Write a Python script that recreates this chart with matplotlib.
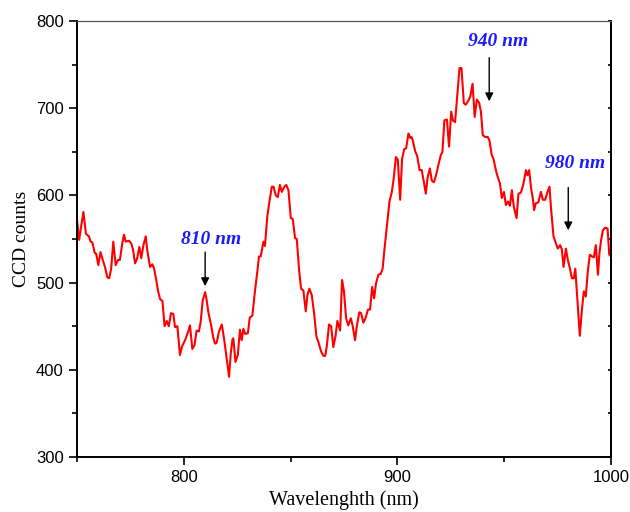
import matplotlib
matplotlib.use("Agg")
import matplotlib.pyplot as plt
import numpy as np

# Spectre (longueur d'onde en nm, coups CCD)
wavelength = [750.0, 751.0, 753.0, 754.2, 755.6, 756.4, 757.2, 758.3, 759.0, 760.0,
              761.0, 762.3, 763.1, 764.2, 765.1, 766.0, 767.0, 768.1, 769.2, 770.1,
              771.2, 772.0, 772.8, 774.4, 775.4, 776.2, 777.2, 778.2, 779.2, 780.1,
              781.1, 782.2, 782.9, 784.2, 785.3, 786.1, 787.1, 787.9, 788.9, 790.0,
              791.0, 792.0, 793.0, 794.0, 795.1, 795.9, 797.0, 798.2, 799.2, 800.6,
              802.1, 802.9, 804.0, 805.0, 806.0, 807.1, 807.9, 808.9, 810.0, 810.7,
              811.5, 812.8, 813.8, 814.6, 815.4, 816.5, 817.8, 818.9, 820.1, 821.2,
              822.0, 822.8, 823.2, 824.2, 825.3, 826.3, 827.1, 827.9, 828.8, 830.0,
              830.9, 832.1, 833.4, 834.5, 835.2, 836.0, 837.3, 838.0, 839.1, 840.1,
              841.2, 842.0, 843.1, 844.0, 845.0, 845.9, 847.1, 848.0, 849.0, 850.1,
              851.0, 852.1, 852.9, 854.0, 854.9, 856.0, 857.1, 857.9, 858.8, 859.9,
              861.0, 862.1, 863.0, 864.3, 865.4, 866.2, 866.9, 868.0, 869.0, 870.0,
              871.0, 871.9, 873.2, 874.1, 875.0, 876.0, 877.0, 878.2, 879.1, 880.2,
              881.0, 882.2, 883.0, 884.1, 885.2, 886.2, 887.2, 888.2, 889.1, 890.0,
              891.1, 892.2, 893.1, 893.9, 894.7, 895.5, 896.3, 897.4, 898.2, 899.3,
              900.2, 901.3, 902.2, 903.2, 904.1, 905.2, 906.0, 906.6, 907.2, 908.3,
              909.3, 910.4, 911.4, 912.5, 913.3, 914.2, 915.2, 916.1, 917.1, 918.1,
              919.2, 920.3, 921.1, 922.0, 923.2, 924.2, 925.2, 926.0, 927.0, 928.0,
              929.1, 930.0, 931.1, 932.0, 933.3, 934.1, 935.2, 936.2, 937.2, 938.3,
              939.1, 940.0, 941.1, 942.3, 943.1, 944.2, 945.0, 946.1, 947.0, 948.0,
              948.9, 949.9, 950.8, 951.8, 952.7, 953.6, 954.5, 955.8, 956.7, 957.8,
              958.9, 960.2, 960.9, 961.7, 962.6, 963.4, 964.0, 964.8, 966.0, 967.2,
              968.1, 969.2, 970.3, 971.2, 972.0, 973.1, 974.2, 975.1, 976.2, 977.0,
              977.8, 978.9, 979.8, 980.8, 981.7, 982.6, 983.3, 984.0, 984.8, 985.4,
              986.4, 987.3, 988.2, 989.2, 990.1, 991.1, 992.0, 992.9, 993.9, 994.6,
              995.4, 996.2, 997.3, 998.4, 999.2, 1000.0]
counts = [572, 549, 581, 556, 553, 547, 546, 534, 533, 520,
          535, 524, 518, 506, 505, 516, 547, 520, 526, 526,
          545, 555, 547, 548, 545, 538, 522, 528, 541, 528,
          543, 553, 537, 518, 521, 516, 503, 491, 481, 479,
          450, 456, 450, 465, 464, 449, 450, 417, 427, 434,
          444, 451, 424, 428, 445, 444, 455, 480, 489, 480,
          466, 451, 437, 430, 431, 444, 452, 435, 413, 392,
          419, 435, 436, 409, 417, 446, 434, 447, 441, 442,
          460, 462, 492, 514, 530, 530, 547, 542, 576, 593,
          610, 610, 600, 598, 612, 604, 610, 612, 606, 574,
          573, 551, 550, 514, 493, 491, 467, 486, 493, 486,
          465, 438, 432, 421, 416, 416, 426, 452, 450, 426,
          438, 456, 445, 503, 490, 459, 451, 459, 450, 434,
          450, 466, 465, 454, 460, 469, 469, 495, 482, 499,
          509, 510, 516, 537, 556, 576, 593, 604, 618, 644,
          641, 595, 642, 653, 654, 671, 666, 667, 663, 651,
          645, 629, 629, 614, 602, 621, 631, 617, 615, 623,
          635, 646, 650, 686, 687, 656, 696, 686, 684, 713,
          746, 746, 706, 704, 709, 713, 728, 690, 710, 706,
          696, 669, 667, 667, 663, 646, 642, 629, 621, 614,
          597, 604, 589, 593, 588, 606, 587, 574, 602, 603,
          612, 629, 623, 629, 608, 597, 583, 591, 592, 604,
          595, 595, 604, 610, 583, 553, 545, 539, 543, 538,
          518, 539, 526, 516, 505, 505, 516, 491, 461, 439,
          469, 490, 484, 514, 532, 530, 529, 543, 509, 534,
          549, 560, 563, 562, 532, 530]

# Pics annotés
peak_wl = [810, 943, 980]
peak_text = ["810 nm", "940 nm", "980 nm"]
text_x = [813, 947, 983]
text_y = [549, 776, 637]
arrow_top = [535, 758, 609]
arrow_tip = [496, 708, 560]

plt.rcParams['font.family'] = ['Liberation Sans', 'DejaVu Sans']

fig = plt.figure(figsize=(6.3, 5.12), dpi=100)
ax = fig.add_axes([0.1222, 0.1074, 0.8476, 0.8516])

ax.plot(wavelength, counts, color='#ff0000', linewidth=1.5)

for wl, txt, tx, ty, at, ab in zip(peak_wl, peak_text, text_x, text_y, arrow_top, arrow_tip):
    ax.text(tx, ty, txt, color='#1a1aff', fontsize=14, fontweight='bold',
            fontstyle='italic', family='Liberation Serif', ha='center', va='center')
    ax.annotate('', xy=(wl, ab), xytext=(wl, at),
                arrowprops=dict(arrowstyle='-|>', color='black', lw=1.0,
                                mutation_scale=12, shrinkA=0, shrinkB=0))

ax.set_xlim(750, 1000)
ax.set_ylim(300, 800)
ax.set_xticks([800, 900, 1000])
ax.set_xticks([750, 850, 950], minor=True)
ax.set_yticks([300, 400, 500, 600, 700, 800])
ax.set_yticks([350, 450, 550, 650, 750], minor=True)

# bordure du haut fine et grise
ax.spines['top'].set_linewidth(0.9)
ax.spines['top'].set_color('#555555')
for s in ['left', 'bottom', 'right']:
    ax.spines[s].set_linewidth(1.4)

ax.tick_params(axis='both', which='major', direction='out', length=6, width=1.2,
               labelsize=12)
ax.tick_params(axis='both', which='minor', direction='out', length=3.5, width=1.2)
ax.tick_params(axis='y', which='both', right=False)

# petits tirets vers l'intérieur sur l'axe de droite
ax2 = ax.secondary_yaxis('right')
ax2.set_yticks([300, 400, 500, 600, 700, 800])
ax2.set_yticks([350, 450, 550, 650, 750], minor=True)
ax2.tick_params(which='both', direction='in', length=2, width=1.2, labelright=False)
ax2.spines['right'].set_linewidth(1.4)

ax.set_xlabel("Wavelenghth (nm)", family='Liberation Serif', fontsize=14.5, labelpad=4)
ax.set_ylabel("CCD counts", family='Liberation Serif', fontsize=14, labelpad=4)

fig.savefig("out.png", dpi=100)
